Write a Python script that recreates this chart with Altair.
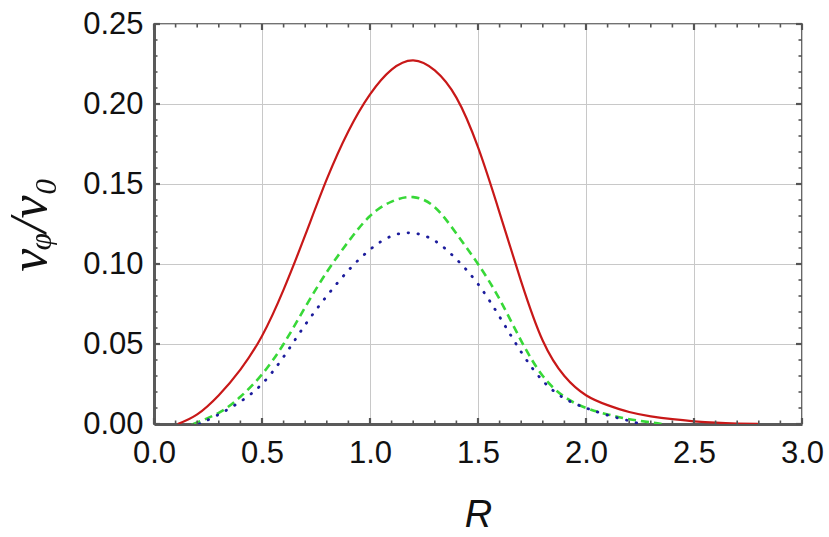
import altair as alt
import pandas as pd

# --- data ---
red_R = [0.11, 0.2, 0.3, 0.4, 0.5, 0.6, 0.7, 0.8, 0.9, 1.0, 1.1, 1.2, 1.3, 1.4, 1.5,
         1.6, 1.7, 1.8, 1.9, 2.0, 2.1, 2.2, 2.3, 2.4, 2.5, 2.6, 2.7, 2.8]
red_v = [0.0, 0.006, 0.018, 0.034, 0.055, 0.084, 0.118, 0.153, 0.183, 0.206, 0.2215, 0.2273,
         0.221, 0.204, 0.173, 0.132, 0.089, 0.052, 0.030, 0.018, 0.0118, 0.0075, 0.0048,
         0.003, 0.0017, 0.0008, 0.0003, 0.0]

green_R = [0.18, 0.2, 0.3, 0.4, 0.5, 0.6, 0.7, 0.8, 0.9, 1.0, 1.1, 1.2, 1.3, 1.4, 1.5,
           1.6, 1.7, 1.8, 1.9, 2.0, 2.1, 2.2, 2.3, 2.35]
green_v = [0.0, 0.001, 0.007, 0.017, 0.031, 0.050, 0.073, 0.095, 0.114, 0.130, 0.139, 0.1418,
           0.1355, 0.119, 0.100, 0.078, 0.052, 0.030, 0.017, 0.010, 0.006, 0.003, 0.001, 0.0]

blue_R = [0.21, 0.3, 0.4, 0.5, 0.6, 0.7, 0.8, 0.9, 1.0, 1.1, 1.2, 1.3, 1.4, 1.5, 1.6,
          1.7, 1.8, 1.9, 2.0, 2.1, 2.2, 2.25]
blue_v = [0.0, 0.006, 0.014, 0.025, 0.042, 0.062, 0.080, 0.096, 0.109, 0.1175, 0.1193, 0.1145,
          0.103, 0.0875, 0.067, 0.045, 0.027, 0.016, 0.010, 0.0055, 0.002, 0.0]

x_major = [0.0, 0.5, 1.0, 1.5, 2.0, 2.5, 3.0]
x_minor = [0.1, 0.2, 0.3, 0.4, 0.6, 0.7, 0.8, 0.9, 1.1, 1.2, 1.3, 1.4, 1.6, 1.7, 1.8, 1.9,
           2.1, 2.2, 2.3, 2.4, 2.6, 2.7, 2.8, 2.9]
y_major = [0.0, 0.05, 0.10, 0.15, 0.20, 0.25]
y_minor = [0.01, 0.02, 0.03, 0.04, 0.06, 0.07, 0.08, 0.09, 0.11, 0.12, 0.13, 0.14,
           0.16, 0.17, 0.18, 0.19, 0.21, 0.22, 0.23, 0.24]

W, H = 648, 400

red_df = pd.DataFrame({"R": red_R, "v": red_v})
green_df = pd.DataFrame({"R": green_R, "v": green_v})
blue_df = pd.DataFrame({"R": blue_R, "v": blue_v})

xscale = alt.Scale(domain=[0, 3], nice=False, zero=False)
yscale = alt.Scale(domain=[0, 0.25], nice=False, zero=False)

x_axis = alt.Axis(
    values=x_major, format=".1f", title="R", grid=True, gridColor="#c8c8c8", gridWidth=1,
    ticks=False, domainColor="#5a5a5a", domainWidth=3, labelFont="Liberation Sans",
    labelFontSize=31, labelColor="#111", labelPadding=14, labelFlush=False,
    titleFont="Liberation Sans", titleFontSize=38, titleFontStyle="italic",
    titleFontWeight="normal", titleColor="#111", titlePadding=28,
)
y_axis = alt.Axis(
    values=y_major, format=".2f", title="vᵩ/v₀", grid=True, gridColor="#c8c8c8", gridWidth=1,
    ticks=False, domainColor="#5a5a5a", domainWidth=3, labelFont="Liberation Sans",
    labelFontSize=31, labelColor="#111", labelPadding=11, labelFlush=False,
    titleFont="Liberation Serif", titleFontSize=52, titleFontStyle="italic",
    titleFontWeight="normal", titleColor="#111", titleAngle=-90, titleX=-125, titleY=200,
    titleAlign="center", titleBaseline="middle",
)

base_x = alt.X("R:Q", scale=xscale, axis=x_axis)
base_y = alt.Y("v:Q", scale=yscale, axis=y_axis)

red = alt.Chart(red_df).mark_line(color="#c81818", strokeWidth=2.2, interpolate="natural",
                                  clip=True).encode(x=base_x, y=base_y)
green = alt.Chart(green_df).mark_line(color="#38d838", strokeWidth=2.6, strokeDash=[8, 5],
                                      interpolate="natural", clip=True).encode(
    x=alt.X("R:Q", scale=xscale), y=alt.Y("v:Q", scale=yscale))
blue = alt.Chart(blue_df).mark_line(color="#1c1c9c", strokeWidth=2.8, strokeDash=[0.5, 9.5],
                                    strokeCap="round", interpolate="natural",
                                    clip=True).encode(
    x=alt.X("R:Q", scale=xscale), y=alt.Y("v:Q", scale=yscale))

tick_color = "#555555"
xmaj_df = pd.DataFrame({"t": x_major})
xmin_df = pd.DataFrame({"t": x_minor})
ymaj_df = pd.DataFrame({"t": y_major})
ymin_df = pd.DataFrame({"t": y_minor})


def xticks(df, size, width):
    bottom = alt.Chart(df).mark_rule(color=tick_color, strokeWidth=width).encode(
        x=alt.X("t:Q", scale=xscale), y=alt.value(H), y2=alt.value(H - size))
    top = alt.Chart(df).mark_rule(color=tick_color, strokeWidth=width).encode(
        x=alt.X("t:Q", scale=xscale), y=alt.value(0), y2=alt.value(size))
    return [bottom, top]


def yticks(df, size, width):
    left = alt.Chart(df).mark_rule(color=tick_color, strokeWidth=width).encode(
        y=alt.Y("t:Q", scale=yscale), x=alt.value(0), x2=alt.value(size))
    right = alt.Chart(df).mark_rule(color=tick_color, strokeWidth=width).encode(
        y=alt.Y("t:Q", scale=yscale), x=alt.value(W), x2=alt.value(W - size))
    return [left, right]


tick_layers = (xticks(xmaj_df, 6, 2.2) + xticks(xmin_df, 3.5, 1.6)
               + yticks(ymaj_df, 6, 2.2) + yticks(ymin_df, 3.5, 1.6))

chart = alt.layer(red, green, blue, *tick_layers).properties(
    width=W, height=H,
    autosize=alt.AutoSizeParams(type="none"),
    padding={"left": 154, "top": 24, "right": 27, "bottom": 113},
    background="white",
).configure_view(stroke="#444444", strokeWidth=1.6)

chart.save("out.html", embed_options={"renderer": "svg", "actions": False})
